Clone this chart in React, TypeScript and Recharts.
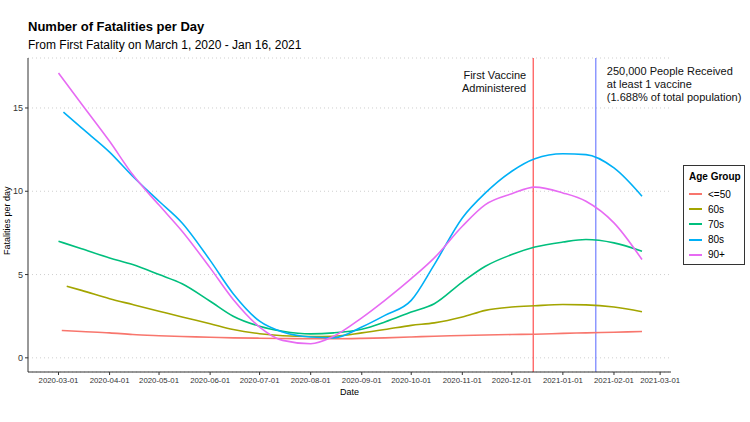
import React from 'react';
import { LineChart, Line, XAxis, YAxis, CartesianGrid, ReferenceLine } from 'recharts';

// sample dates shared by every series (after each series' own start date)
const gridDates = [
  '2020-03-15', '2020-04-01', '2020-04-15', '2020-05-01', '2020-05-15', '2020-06-01',
  '2020-06-15', '2020-07-01', '2020-07-15', '2020-08-01', '2020-08-15', '2020-09-01',
  '2020-09-15', '2020-10-01', '2020-10-15', '2020-11-01', '2020-11-15', '2020-12-01',
  '2020-12-15', '2021-01-01', '2021-01-15', '2021-02-01', '2021-02-18',
];

const under50 = [1.64, 1.58, 1.5, 1.4, 1.33, 1.28, 1.24, 1.2, 1.18, 1.16, 1.15, 1.15, 1.17, 1.2, 1.25, 1.3, 1.34, 1.37, 1.4, 1.42, 1.47, 1.5, 1.54, 1.58];
const sixties = [4.3, 4.05, 3.55, 3.2, 2.8, 2.45, 2.05, 1.7, 1.45, 1.33, 1.28, 1.3, 1.5, 1.7, 1.95, 2.1, 2.45, 2.85, 3.05, 3.13, 3.2, 3.18, 3.05, 2.77];
const seventies = [7.0, 6.55, 6.0, 5.6, 5.0, 4.45, 3.4, 2.5, 1.9, 1.6, 1.44, 1.5, 1.72, 2.15, 2.75, 3.25, 4.55, 5.5, 6.2, 6.65, 6.95, 7.1, 6.9, 6.4];
const eighties = [14.75, 13.8, 12.35, 10.9, 9.4, 8.1, 5.85, 3.85, 2.2, 1.55, 1.25, 1.2, 1.85, 2.55, 3.45, 5.6, 8.4, 9.9, 11.2, 11.95, 12.25, 12.2, 11.4, 9.7];
const ninetyPlus = [17.1, 15.24, 13.0, 11.0, 9.17, 7.6, 5.4, 3.5, 1.85, 1.05, 0.85, 1.3, 2.4, 3.45, 4.75, 6.0, 7.9, 9.2, 9.85, 10.25, 9.9, 9.4, 8.1, 5.9];

const groups = [
  { name: '<=50', start: '2020-03-03', values: under50, color: '#F8766D' },
  { name: '60s', start: '2020-03-06', values: sixties, color: '#A3A500' },
  { name: '70s', start: '2020-03-01', values: seventies, color: '#00BF7D' },
  { name: '80s', start: '2020-03-04', values: eighties, color: '#00B0F6' },
  { name: '90+', start: '2020-03-01', values: ninetyPlus, color: '#E76BF3' },
];

const monthTicks = [
  '2020-03-01', '2020-04-01', '2020-05-01', '2020-06-01', '2020-07-01', '2020-08-01', '2020-09-01',
  '2020-10-01', '2020-11-01', '2020-12-01', '2021-01-01', '2021-02-01', '2021-03-01',
];
const yTicks = [0, 5, 10, 15];

const firstVaccine = '2020-12-14';
const quarterMillion = '2021-01-21';

const DAY = 86400000;
const toTime = (s: string) => Date.parse(s + 'T00:00:00Z');
const fmtDate = (t: number) => new Date(t).toISOString().slice(0, 10);
const origin = toTime('2020-03-01');

const font = '"Liberation Sans", Arial, Helvetica, sans-serif';

const series = groups.map(g => ({
  ...g,
  data: [g.start, ...gridDates].map((d, i) => ({ t: toTime(d), v: g.values[i] })),
}));

function NoteLabel({ viewBox, lines, side }: any) {
  const x = viewBox.x;
  const y = viewBox.y;
  if (side === 'left') {
    return (
      <text x={x - 7} y={y + 21} textAnchor="end" fontSize={11} fill="#111" fontFamily={font}>
        {lines.map((l: string, i: number) => (
          <tspan key={i} x={x - 7} dy={i === 0 ? 0 : 13}>{l}</tspan>
        ))}
      </text>
    );
  }
  return (
    <text x={x + 11} y={y + 17} textAnchor="start" fontSize={11} fill="#111" fontFamily={font}>
      {lines.map((l: string, i: number) => (
        <tspan key={i} x={x + 11} dy={i === 0 ? 0 : 13}>{l}</tspan>
      ))}
    </text>
  );
}

export default function App() {
  return (
    <div style={{ position: 'absolute', left: 0, top: 0, width: 750, height: 422, background: '#fff', fontFamily: font }}>
      <div style={{ position: 'absolute', left: 28, top: 19, fontSize: 13, fontWeight: 'bold', color: '#000' }}>
        Number of Fatalities per Day
      </div>
      <div style={{ position: 'absolute', left: 28, top: 38, fontSize: 12, color: '#000' }}>
        From First Fatality on March 1, 2020 - Jan 16, 2021
      </div>

      <LineChart width={750} height={422} margin={{ top: 58, right: 79, left: 0, bottom: 0 }} style={{ position: 'absolute', left: 0, top: 0 }}>
        <CartesianGrid horizontal vertical={false} stroke="#cfcfcf" strokeDasharray="1 3" />
        <XAxis
          dataKey="t"
          type="number"
          domain={[origin - 18.5 * DAY, origin + 371.6 * DAY]}
          ticks={monthTicks.map(toTime)}
          tickFormatter={fmtDate}
          allowDataOverflow
          height={50}
          stroke="#333"
          tickSize={3}
          tick={{ fontSize: 7.8, fill: '#333', fontFamily: font }}
          label={{ value: 'Date', position: 'insideTop', offset: 17, fontSize: 9, fill: '#000', fontFamily: font }}
        />
        <YAxis
          type="number"
          domain={[-0.85, 18.0]}
          ticks={yTicks}
          allowDataOverflow
          width={28}
          stroke="#333"
          tickSize={3}
          tick={{ fontSize: 9, fill: '#333', fontFamily: font }}
          label={{ value: 'Fatalities per day', angle: -90, position: 'insideLeft', offset: 0, dx: 7, dy: 40, fontSize: 9, fill: '#000', fontFamily: font }}
        />
        <ReferenceLine
          x={toTime(firstVaccine)}
          stroke="#FF2A2A"
          strokeWidth={1}
          label={(p: any) => <NoteLabel {...p} side="left" lines={['First Vaccine', 'Administered']} />}
        />
        <ReferenceLine
          x={toTime(quarterMillion)}
          stroke="#5566FF"
          strokeWidth={1}
          label={(p: any) => (
            <NoteLabel {...p} side="right" lines={['250,000 People Received', 'at least 1 vaccine', '(1.688% of total population)']} />
          )}
        />
        {series.map(s => (
          <Line
            key={s.name}
            data={s.data}
            dataKey="v"
            name={s.name}
            type="monotone"
            stroke={s.color}
            strokeWidth={1.6}
            dot={false}
            isAnimationActive={false}
          />
        ))}
      </LineChart>

      <div style={{ position: 'absolute', left: 683, top: 165, width: 62, height: 100, border: '1px solid #333', background: '#fff', boxSizing: 'border-box' }}>
        <div style={{ position: 'absolute', left: 5, top: 5, fontSize: 10, fontWeight: 'bold', color: '#000' }}>Age Group</div>
        {groups.map((g, i) => (
          <div key={g.name} style={{ position: 'absolute', left: 5, top: 22 + i * 15.2, height: 12, display: 'flex', alignItems: 'center' }}>
            <div style={{ width: 13, height: 2, background: g.color }} />
            <span style={{ marginLeft: 6, fontSize: 10, color: '#000' }}>{g.name}</span>
          </div>
        ))}
      </div>
    </div>
  );
}
